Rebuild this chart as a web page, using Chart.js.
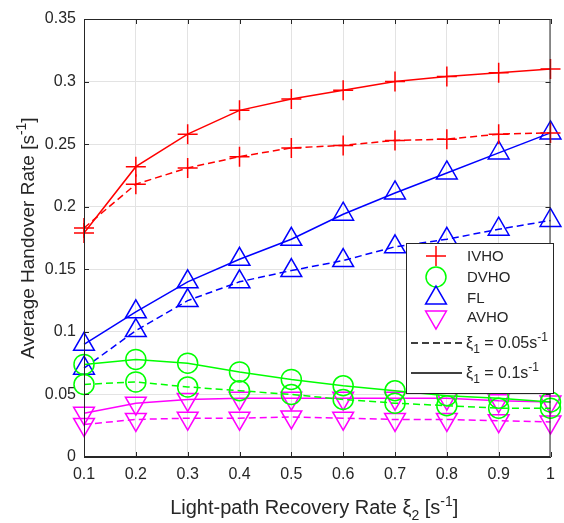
<!DOCTYPE html>
<html>
<head>
<meta charset="utf-8">
<script src="https://cdn.jsdelivr.net/npm/chart.js@4.4.0/dist/chart.umd.min.js"></script>
<style>
  body { margin: 0; background: #fff; }
  #handover { display: block; }
</style>
</head>
<body>
<canvas id="handover" width="564" height="523"></canvas>
<script>
// light-path recovery rate xi2 [1/s]
var recoveryRates = [0.1, 0.2, 0.3, 0.4, 0.5, 0.6, 0.7, 0.8, 0.9, 1.0];
var xTicks = [0.1, 0.2, 0.3, 0.4, 0.5, 0.6, 0.7, 0.8, 0.9, 1.0];
var yTicks = [0, 0.05, 0.1, 0.15, 0.2, 0.25, 0.3, 0.35];

// xi1 = 0.1 (solid) and xi1 = 0.05 (dashed)
var ivhoFast = [0.179, 0.232, 0.258, 0.277, 0.286, 0.293, 0.300, 0.304, 0.307, 0.310];
var ivhoSlow = [0.183, 0.218, 0.231, 0.240, 0.247, 0.249, 0.253, 0.254, 0.258, 0.259];
var dvhoFast = [0.074, 0.078, 0.075, 0.068, 0.062, 0.057, 0.053, 0.049, 0.047, 0.044];
var dvhoSlow = [0.058, 0.060, 0.056, 0.053, 0.050, 0.046, 0.043, 0.041, 0.039, 0.039];
var flFast   = [0.090, 0.116, 0.140, 0.158, 0.174, 0.194, 0.211, 0.227, 0.243, 0.259];
var flSlow   = [0.071, 0.101, 0.125, 0.140, 0.149, 0.157, 0.168, 0.174, 0.182, 0.189];
var avhoFast = [0.035, 0.043, 0.046, 0.047, 0.047, 0.047, 0.047, 0.047, 0.045, 0.044];
var avhoSlow = [0.026, 0.030, 0.031, 0.031, 0.032, 0.031, 0.030, 0.030, 0.029, 0.028];

var FONT = '"Liberation Sans", Arial, Helvetica, sans-serif';
var INK = '#262626';

function pts(arr) {
  return recoveryRates.map(function (x, i) { return { x: x, y: arr[i] }; });
}

function series(label, arr, color, style, radius, rotation, dashed) {
  return {
    label: label,
    data: pts(arr),
    borderColor: color,
    borderWidth: 1.5,
    borderDash: dashed ? [7, 4] : [],
    backgroundColor: 'transparent',
    pointStyle: style,
    pointRadius: radius,
    pointRotation: rotation,
    pointBorderColor: color,
    pointBackgroundColor: 'transparent',
    pointBorderWidth: 1.5,
    tension: 0,
    clip: false,
    fill: false
  };
}

// draw a run of text pieces, some sub/superscript, starting at x
function partsWidth(ctx, parts, size) {
  var small = Math.round(size * 0.72);
  var total = 0;
  parts.forEach(function (p) {
    ctx.font = (p.sub || p.sup ? small : size) + 'px ' + FONT;
    total += ctx.measureText(p.t).width;
  });
  return total;
}

function leftText(ctx, parts, x, y, size) {
  var small = Math.round(size * 0.72);
  ctx.textBaseline = 'alphabetic';
  ctx.textAlign = 'left';
  parts.forEach(function (p) {
    ctx.font = (p.sub || p.sup ? small : size) + 'px ' + FONT;
    var dy = p.sub ? size * 0.3 : (p.sup ? -size * 0.42 : 0);
    ctx.fillText(p.t, x, y + dy);
    x += ctx.measureText(p.t).width;
  });
}

function centerText(ctx, parts, cx, y, size) {
  leftText(ctx, parts, cx - partsWidth(ctx, parts, size) / 2, y, size);
}

var decorations = {
  id: 'decorations',
  afterDraw: function (chart) {
    var ctx = chart.ctx;
    var a = chart.chartArea;
    var xs = chart.scales.x, ys = chart.scales.y;
    ctx.save();

    // axes box and inward ticks
    ctx.strokeStyle = INK;
    ctx.lineWidth = 1;
    ctx.strokeRect(a.left + 0.5, a.top + 0.5, a.right - a.left - 1, a.bottom - a.top - 1);
    ctx.beginPath();
    xTicks.forEach(function (v) {
      var px = Math.round(xs.getPixelForValue(v)) + 0.5;
      ctx.moveTo(px, a.bottom); ctx.lineTo(px, a.bottom - 5);
      ctx.moveTo(px, a.top); ctx.lineTo(px, a.top + 5);
    });
    yTicks.forEach(function (v) {
      var py = Math.round(ys.getPixelForValue(v)) + 0.5;
      ctx.moveTo(a.left, py); ctx.lineTo(a.left + 5, py);
      ctx.moveTo(a.right, py); ctx.lineTo(a.right - 5, py);
    });
    ctx.stroke();

    // axis titles
    ctx.fillStyle = INK;
    centerText(ctx, [
      { t: 'Light-path Recovery Rate ' }, { t: '\u03BE' }, { t: '2', sub: true },
      { t: ' [s' }, { t: '-1', sup: true }, { t: ']' }
    ], (a.left + a.right) / 2 - 3, 514, 20);

    ctx.save();
    ctx.translate(34, (a.top + a.bottom) / 2);
    ctx.rotate(-Math.PI / 2);
    centerText(ctx, [
      { t: 'Average Handover Rate [s' }, { t: '-1', sup: true }, { t: ']' }
    ], 0, 0, 19);
    ctx.restore();

    // legend box
    var bx = 406, by = 243, bw = 147, bh = 150;
    ctx.fillStyle = '#fff';
    ctx.fillRect(bx, by, bw, bh);
    ctx.strokeStyle = INK;
    ctx.lineWidth = 1;
    ctx.strokeRect(bx + 0.5, by + 0.5, bw, bh);

    var markers = [
      { label: 'IVHO', color: '#ff0000', style: 'cross', r: 10, rot: 0, y: 256 },
      { label: 'DVHO', color: '#00ff00', style: 'circle', r: 10, rot: 0, y: 277 },
      { label: 'FL', color: '#0000ff', style: 'triangle', r: 12, rot: 0, y: 298 },
      { label: 'AVHO', color: '#ff00ff', style: 'triangle', r: 12, rot: 180, y: 317 }
    ];
    markers.forEach(function (m) {
      ctx.strokeStyle = m.color;
      ctx.fillStyle = 'rgba(0,0,0,0)';
      ctx.lineWidth = 1.5;
      ctx.setLineDash([]);
      Chart.helpers.drawPoint(ctx, {
        pointStyle: m.style, radius: m.r, rotation: m.rot, borderWidth: 1.5
      }, 436, m.y);
      ctx.fillStyle = INK;
      ctx.font = '15px ' + FONT;
      ctx.textAlign = 'left';
      ctx.textBaseline = 'middle';
      ctx.fillText(m.label, 467, m.y + 1);
    });

    var lines = [
      { dash: [7, 4], y: 343, value: '0.05s' },
      { dash: [], y: 373, value: '0.1s' }
    ];
    lines.forEach(function (l) {
      ctx.strokeStyle = '#000';
      ctx.lineWidth = 1.5;
      ctx.setLineDash(l.dash);
      ctx.beginPath();
      ctx.moveTo(411, l.y);
      ctx.lineTo(462, l.y);
      ctx.stroke();
      ctx.setLineDash([]);
      ctx.fillStyle = INK;
      leftText(ctx, [
        { t: '\u03BE' }, { t: '1', sub: true }, { t: ' = ' + l.value }, { t: '-1', sup: true }
      ], 466, l.y + 5, 16);
    });

    ctx.restore();
  }
};

var ctx = document.getElementById('handover').getContext('2d');
var chart = new Chart(ctx, {
  type: 'line',
  data: {
    datasets: [
      series('IVHO 0.1', ivhoFast, '#ff0000', 'cross', 10, 0, false),
      series('IVHO 0.05', ivhoSlow, '#ff0000', 'cross', 10, 0, true),
      series('DVHO 0.1', dvhoFast, '#00ff00', 'circle', 10, 0, false),
      series('DVHO 0.05', dvhoSlow, '#00ff00', 'circle', 10, 0, true),
      series('FL 0.1', flFast, '#0000ff', 'triangle', 12, 0, false),
      series('FL 0.05', flSlow, '#0000ff', 'triangle', 12, 0, true),
      series('AVHO 0.1', avhoFast, '#ff00ff', 'triangle', 12, 180, false),
      series('AVHO 0.05', avhoSlow, '#ff00ff', 'triangle', 12, 180, true)
    ]
  },
  options: {
    responsive: false,
    animation: false,
    devicePixelRatio: 1,
    layout: { padding: { top: 19, right: 4, left: 0, bottom: 0 } },
    plugins: {
      legend: { display: false },
      tooltip: { enabled: false }
    },
    scales: {
      x: {
        type: 'linear',
        min: 0.1,
        max: 1,
        afterBuildTicks: function (scale) {
          scale.ticks = xTicks.map(function (v) { return { value: v }; });
        },
        afterFit: function (scale) { scale.height = 66; },
        ticks: {
          color: INK,
          padding: 8,
          maxRotation: 0,
          font: { family: FONT, size: 16 },
          callback: function (v) { return String(Number(v.toFixed(2))); }
        },
        grid: { color: '#e3e3e3', drawTicks: false },
        border: { display: true, color: INK }
      },
      y: {
        min: 0,
        max: 0.35,
        afterBuildTicks: function (scale) {
          scale.ticks = yTicks.map(function (v) { return { value: v }; });
        },
        afterFit: function (scale) { scale.width = 84; },
        ticks: {
          color: INK,
          padding: 8,
          font: { family: FONT, size: 16 },
          callback: function (v) { return String(Number(v.toFixed(2))); }
        },
        grid: { color: '#e3e3e3', drawTicks: false },
        border: { display: true, color: INK }
      }
    }
  },
  plugins: [decorations]
});
</script>
</body>
</html>
